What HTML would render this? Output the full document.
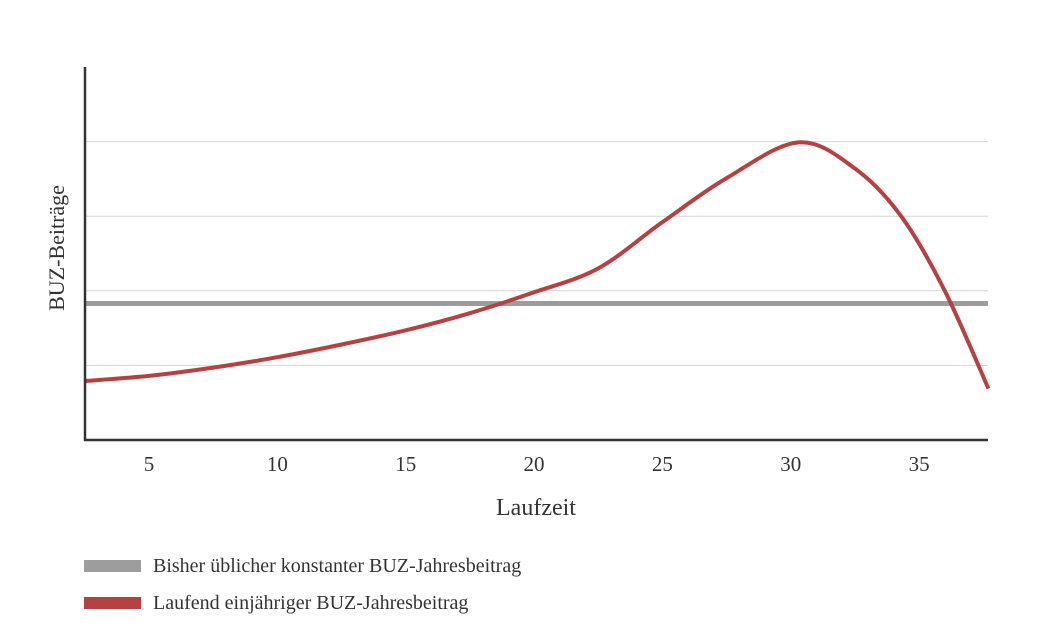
<!DOCTYPE html>
<html><head><meta charset="utf-8"><style>
body{margin:0;background:#fff;}
svg{display:block;font-family:"Liberation Serif",serif;}
</style></head><body>
<svg id="chart" width="1055" height="641"></svg>
<script>
const xTicks=[5,10,15,20,25,30,35];
const yGrid=[1,2,3,4];
const constantValue=1.83;
const years=[2.5,5,7.5,10,12.5,15,17.5,20,22.5,25,27.5,30.3,32.5,34.3,36,37.7];
const annualValues=[0.79,0.86,0.97,1.11,1.28,1.47,1.7,1.98,2.3,2.92,3.51,3.99,3.64,3.0,2.0,0.69];
const NS="http://www.w3.org/2000/svg";
const svg=document.getElementById('chart');
const X=v=>149+(v-5)*25.67;
const Y=v=>440-v*74.6;
function mk(t,a,txt){const e=document.createElementNS(NS,t);for(const k in a)e.setAttribute(k,a[k]);if(txt!==undefined)e.textContent=txt;svg.appendChild(e);return e;}
yGrid.forEach(g=>{const l=mk('line',{x1:85,x2:988,y1:Y(g),y2:Y(g),stroke:'#d6d6d6','stroke-width':1});

});
const c=mk('line',{x1:85,x2:988,y1:Y(constantValue),y2:Y(constantValue),stroke:'#9d9d9d','stroke-width':5});


const pts=years.map((y,i)=>[X(y),Y(annualValues[i])]);
let d='M'+pts[0][0]+','+pts[0][1];
for(let i=0;i<pts.length-1;i++){const p0=pts[i-1]||pts[i],p1=pts[i],p2=pts[i+1],p3=pts[i+2]||p2;
d+=` C${p1[0]+(p2[0]-p0[0])/6},${p1[1]+(p2[1]-p0[1])/6} ${p2[0]-(p3[0]-p1[0])/6},${p2[1]-(p3[1]-p1[1])/6} ${p2[0]},${p2[1]}`;}
const r=mk('path',{d:d,fill:'none',stroke:'#b54142','stroke-width':4});


const ya=mk('line',{x1:85,x2:85,y1:67,y2:441,stroke:'#333','stroke-width':2.5});


const xa=mk('line',{x1:84,x2:988,y1:440,y2:440,stroke:'#333','stroke-width':2.5});


xTicks.forEach(t=>{const e=mk('text',{x:X(t),y:471,'text-anchor':'middle','font-size':21,fill:'#333'},t);

});
const xt=mk('text',{x:536,y:515,'text-anchor':'middle','font-size':24,fill:'#333'},'Laufzeit');


const yt=mk('text',{x:0,y:0,transform:'translate(64,248) rotate(-90)','text-anchor':'middle','font-size':22,fill:'#333'},'BUZ-Beiträge');


const l1=mk('rect',{x:84,y:560,width:57,height:12,fill:'#9d9d9d'});


const t1=mk('text',{x:153,y:572,'font-size':20,fill:'#333'},'Bisher üblicher konstanter BUZ-Jahresbeitrag');


const l2=mk('rect',{x:84,y:597,width:57,height:12,fill:'#b54142'});


const t2=mk('text',{x:153,y:609,'font-size':20,fill:'#333'},'Laufend einjähriger BUZ-Jahresbeitrag');


</script>
</body></html>
